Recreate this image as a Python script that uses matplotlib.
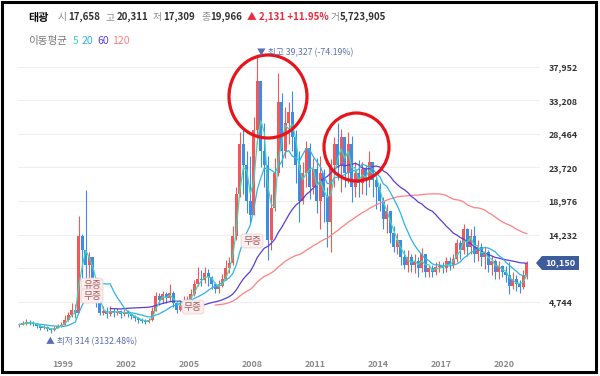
import matplotlib
matplotlib.use("Agg")
import matplotlib.pyplot as plt
from matplotlib.patches import Ellipse, Rectangle, Polygon
import numpy as np
import pandas as pd

plt.rcParams['font.family'] = ['Noto Sans CJK KR', 'DejaVu Sans']

# bimonthly candles from Nov 1996 to Jan 2021
close = [
    1500, 1700, 1900, 1800, 1600, 1300, 1000, 1200, 900, 700, 1100, 1300, 1500,  # 1996-98
    2200, 2800, 3600, 3200, 14000, 12000,      # 1999
    10000, 11000, 8000, 4500, 3200, 3500,      # 2000
    3000, 3500, 3200, 3400, 3000, 3300,        # 2001
    3000, 2700, 2400, 2200, 2000, 1900,        # 2002
    2100, 3500, 5500, 5000, 5800, 5200,        # 2003
    6000, 4500, 3600, 4200, 4800, 5000,        # 2004
    5800, 7200, 8000, 7800, 8800, 8200,        # 2005
    7200, 6500, 7000, 8000, 9500, 10200,       # 2006
    14000, 20000, 27000, 24000, 19000, 17000,  # 2007
    29000, 36000, 26000, 24000, 13500, 18000,  # 2008
    23000, 33000, 26000, 30000, 31500, 28000,  # 2009
    24000, 19000, 23000, 26500, 21000, 23500,  # 2010
    19000, 23000, 19500, 16000, 24000, 27000,  # 2011
    24000, 28000, 23000, 27000, 21000, 23000,  # 2012
    21500, 23500, 22000, 24500, 22000, 21000,  # 2013
    19000, 16500, 17500, 14500, 12500, 13500,  # 2014
    11000, 10000, 11000, 10000, 10500, 9500,   # 2015
    11500, 9000, 9500, 9000, 9600, 9800,       # 2016
    9500, 10500, 10000, 10800, 13000, 12000,   # 2017
    15000, 12500, 14000, 11500, 12500, 11000,  # 2018
    11800, 10000, 10500, 9000, 9800, 9000,     # 2019
    8500, 7000, 8000, 7200, 6800, 8500,        # 2020
    10150,                                     # 2021
]
high = [
    1800, 2000, 2300, 2100, 2000, 1700, 1400, 1500, 1300, 1000, 1300, 1600, 1900,
    2800, 3300, 4600, 4400, 16800, 14300,
    20500, 11700, 11000, 8000, 4800, 4200,
    4000, 4100, 3800, 3900, 3600, 3700,
    3600, 3200, 2900, 2600, 2400, 2300,
    2500, 4000, 6100, 6000, 6200, 6100,
    7200, 6300, 4600, 4800, 5500, 5600,
    6500, 7800, 9700, 9200, 9700, 9400,
    8400, 7500, 7800, 8600, 10700, 11000,
    15500, 21000, 28700, 29500, 26000, 25300,
    30800, 39327, 35700, 30000, 25300, 20000,
    25000, 37100, 34300, 32300, 33000, 34450,
    29000, 26000, 24500, 27500, 27200, 25000,
    25000, 25300, 23500, 21000, 24850, 28000,
    30000, 29100, 28000, 28660, 28100, 24500,
    24800, 24500, 24000, 26000, 24000, 22500,
    21500, 19600, 18500, 17000, 15500, 14500,
    13500, 12000, 12100, 11500, 11500, 11000,
    12400, 11500, 10000, 10000, 10300, 10450,
    10400, 11100, 11000, 11500, 13550, 13500,
    15700, 15200, 15000, 15400, 13500, 13100,
    12500, 12000, 11150, 10800, 10500, 10000,
    9800, 10300, 9000, 8500, 7800, 9200,
    10450,
]
low = [
    1200, 1400, 1500, 1500, 1300, 1000, 800, 900, 600, 314, 600, 1000, 1200,
    1400, 2000, 2600, 2500, 3500, 7000,
    7900, 8000, 7500, 4000, 2800, 2800,
    2500, 2700, 2600, 2800, 2500, 2700,
    2600, 2300, 2000, 1800, 1700, 1600,
    1700, 2000, 3400, 4300, 4600, 4500,
    4800, 4000, 3200, 3400, 4000, 4300,
    4800, 5600, 7000, 6900, 7400, 7000,
    6500, 6000, 6000, 6800, 7800, 8800,
    10000, 13500, 19500, 20000, 17300, 15900,
    17000, 27000, 23800, 21000, 10700, 12000,
    17500, 22500, 23800, 25000, 27000, 26000,
    21500, 16000, 18500, 21000, 19200, 20000,
    17300, 15000, 16000, 12500, 11700, 21000,
    22000, 20200, 21000, 21500, 18800, 19600,
    19600, 20000, 19800, 21000, 19500, 17800,
    17500, 15000, 14500, 13000, 11700, 11500,
    10000, 9300, 9000, 9000, 8800, 8300,
    9000, 8300, 8200, 8300, 8500, 9000,
    8800, 9000, 9200, 9500, 10300, 10800,
    11500, 11150, 11500, 10300, 10500, 9800,
    9300, 9000, 8500, 8000, 7900, 8200,
    7500, 5800, 6500, 6200, 6000, 6500,
    8000,
]
first_open = 1400

yticks = [4744, 9488, 14232, 18976, 23720, 28464, 33208, 37952]
years = [1999, 2002, 2005, 2008, 2011, 2014, 2017, 2020]
last_price = '10,150'

ma_colors = {5: '#3fd6b6', 20: '#2db4e6', 60: '#5a3dd8', 120: '#ff8080'}
up_color = '#f25858'
down_color = '#3a8ee6'

dates = pd.date_range('1996-11-01', periods=len(close), freq='2MS')
t = dates.year + dates.month / 12.0
s = pd.Series(close, dtype=float)
opens = s.shift(1).fillna(first_open).values
closes = s.values

fig = plt.figure(figsize=(6, 3.76), dpi=100)
W, H = 600, 376
x_left, x_right, y_top, y_bot = 18, 540, 45, 350
ax = fig.add_axes([x_left / W, 1 - y_bot / H, (x_right - x_left) / W, (y_bot - y_top) / H])
ax.set_xlim(1999 - (63 - x_left) / 21.0, 1999 + (x_right - 63) / 21.0)
ax.set_ylim(-(y_bot - 335.3) * 141.3, (335.3 - y_top) * 141.3)
for sp in ax.spines.values():
    sp.set_visible(False)

for v in yticks:
    ax.axhline(v, color='#efefef', lw=0.8, zorder=0)

up = closes >= opens
cols = np.where(up, up_color, down_color)
ax.vlines(t, low, high, colors=cols, lw=0.8, zorder=2)
bottoms = np.minimum(opens, closes)
heights = np.maximum(np.abs(closes - opens), 60)
ax.bar(t, heights, bottom=bottoms, width=0.12, color=cols, zorder=2, linewidth=0)

# moving averages (monthly windows -> bimonthly candles)
ma5 = s.rolling(3, min_periods=1).mean()
ma20 = s.rolling(10, min_periods=1).mean()
ma60 = s.rolling(30, min_periods=27).mean()
ma120 = s.rolling(60, min_periods=57).mean()
ax.plot(t, ma120, color=ma_colors[120], lw=0.9, zorder=3)
ax.plot(t, ma60, color=ma_colors[60], lw=0.9, zorder=3)
ax.plot(t, ma20, color=ma_colors[20], lw=0.9, zorder=3)
ax.plot(t, ma5, color=ma_colors[5], lw=0.9, zorder=3)

# 9,488 sits under the last-price tag
ax.yaxis.tick_right()
ax.set_yticks(yticks)
ax.set_yticklabels(['' if v == 9488 else f'{v:,}' for v in yticks],
                   fontsize=6.4, fontweight='bold', color='#333333')
ax.tick_params(axis='y', length=0, pad=6)
ax.set_xticks(years)
ax.set_xticklabels([str(y) for y in years], fontsize=6.4, fontweight='bold', color='#8a8a8a')
ax.tick_params(axis='x', length=0, pad=7)

# overlay in pixel coordinates
ov = fig.add_axes([0, 0, 1, 1])
ov.set_xlim(0, W)
ov.set_ylim(H, 0)
ov.axis('off')
ov.patch.set_alpha(0)

ov.add_patch(Rectangle((1.5, 1.5), 594.5, 370.5, fill=False, ec='black', lw=2.2))

hy = 17
fs = 7.0
ov.text(28, hy, '태광', fontsize=8, fontweight='bold', color='#111111', va='center')
head = [(58, '시', '#8a8a8a', 'normal'), (68, '17,658', '#333333', 'bold'),
        (106, '고', '#8a8a8a', 'normal'), (117, '20,311', '#333333', 'bold'),
        (153, '저', '#8a8a8a', 'normal'), (163, '17,309', '#333333', 'bold'),
        (202, '종', '#8a8a8a', 'normal'), (210, '19,966', '#333333', 'bold'),
        (247, '▲ 2,131 +11.95%', '#ee2a3a', 'bold'),
        (331, '거', '#8a8a8a', 'normal'), (340, '5,723,905', '#333333', 'bold')]
for x, txt, c, w in head:
    ov.text(x, hy, txt, fontsize=fs, color=c, fontweight=w, va='center')

ly = 41
ov.text(28, ly, '이동평균', fontsize=7.6, color='#777777', va='center')
for x, n in [(73, 5), (82, 20), (97, 60), (112, 120)]:
    ov.text(x, ly, str(n), fontsize=7.6, color=ma_colors[n], va='center')

ov.text(257, 52.5, '▼ 최고 39,327 (-74.19%)', fontsize=6.3, color='#5a6eb2', va='center')
ov.text(46, 342, '▲ 최저 314 (3132.48%)', fontsize=6.3, color='#5a6eb2', va='center')

box = dict(boxstyle='round,pad=0.2,rounding_size=0.3', fc='#fbeeee', ec='#f0d2d2', lw=0.6)
for x, y, txt in [(92, 285, '유증'), (92, 296, '무증'), (193, 307, '무증'), (252, 241, '무증')]:
    ov.text(x, y, txt, fontsize=7, color='#a65a5a', ha='center', va='center', bbox=box)

ov.add_patch(Ellipse((268, 96.5), 78, 83, fill=False, ec='#e8141c', lw=2.3))
ov.add_patch(Ellipse((356.5, 147), 65, 68, fill=False, ec='#e8141c', lw=2.3))

ov.add_patch(Polygon([(536, 263), (542, 256), (579, 256), (579, 270), (542, 270)],
                     closed=True, fc='#3e5b9b', ec='none'))
ov.text(560, 263, last_price, fontsize=6.6, color='white', fontweight='bold', ha='center', va='center')

fig.savefig('out.png', dpi=100)
